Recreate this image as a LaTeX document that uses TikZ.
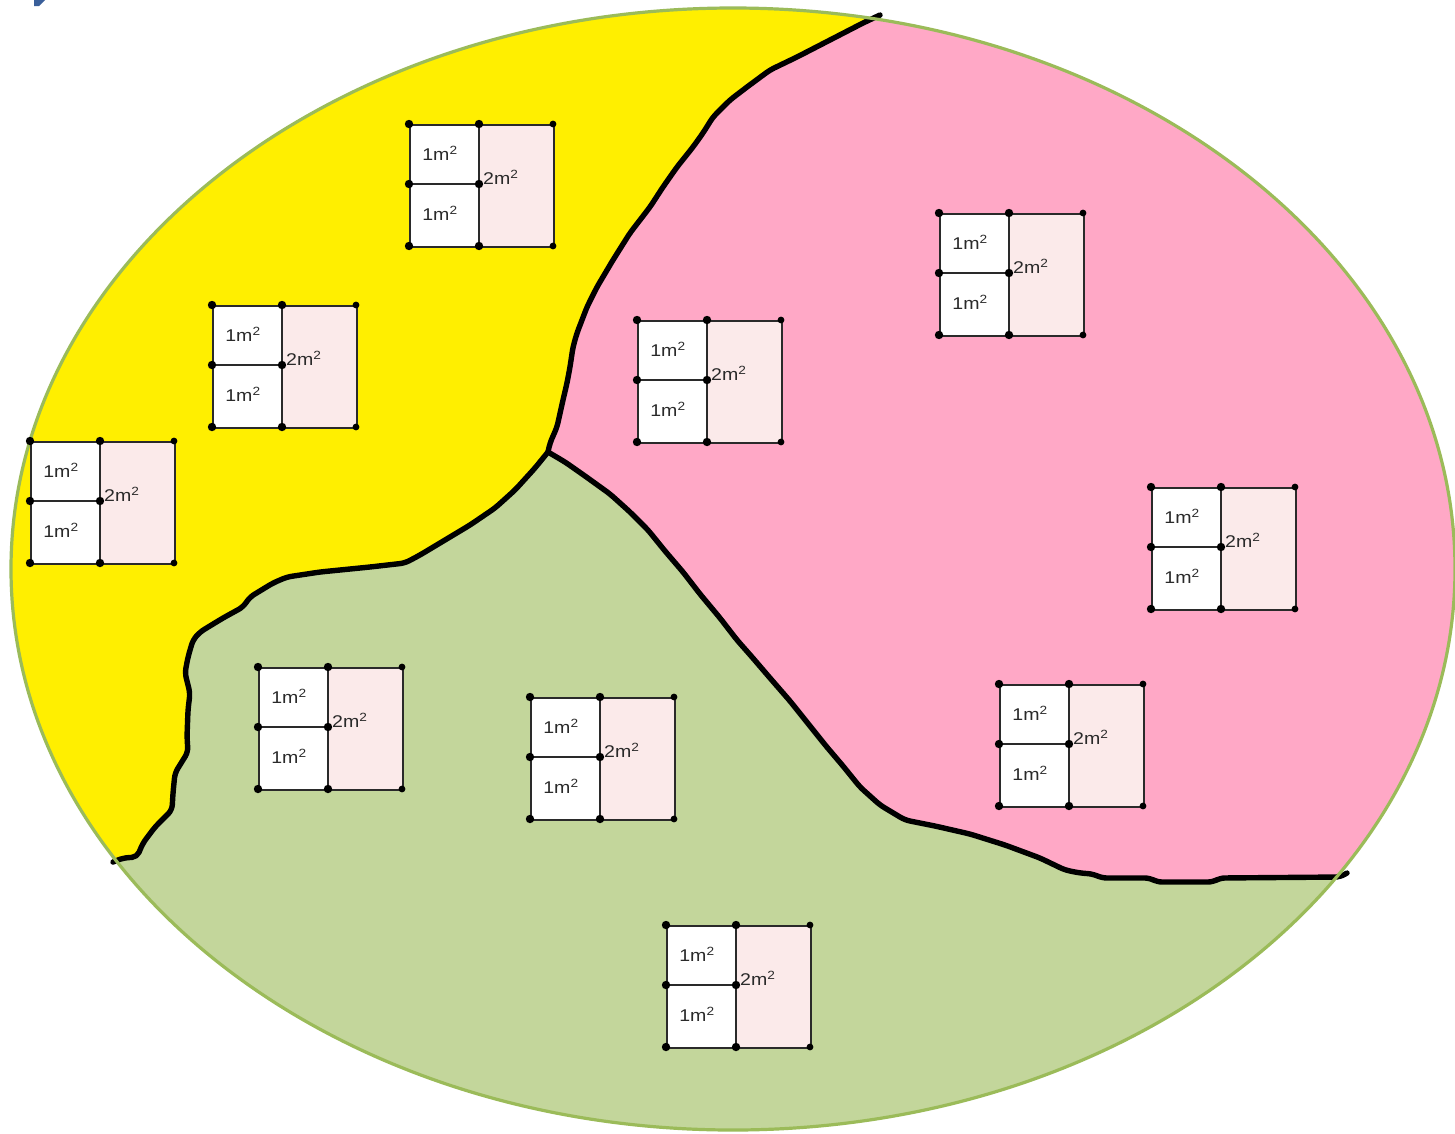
\documentclass[tikz,border=0pt]{standalone}
\usepackage{fontspec}
\newfontfamily\qfont[FakeStretch=1.15]{Liberation Sans}
\usetikzlibrary{calc}
\definecolor{yel}{HTML}{FFEF00}
\definecolor{pnk}{HTML}{FFA8C6}
\definecolor{grn}{HTML}{C3D69B}
\definecolor{rim}{HTML}{9BBB59}
\definecolor{cellpink}{HTML}{FBEAEA}
\definecolor{qgray}{HTML}{2A2A2A}
\definecolor{markblue}{HTML}{3A5F9A}
\tikzset{
  border/.style={line width=5.4pt, black, line join=round, line cap=round, rounded corners=5pt},
  rimline/.style={line width=3.2pt, rim},
  qframe/.style={draw=qgray, line width=1.8pt, minimum width=144pt, minimum height=122pt, inner sep=0pt, anchor=north west},
  qline/.style={draw=qgray, line width=1.8pt},
  qlabel/.style={font=\qfont\fontsize{17}{19}\selectfont, text=qgray, inner sep=0pt},
}
\newcommand\quadbox[3]{%
\begin{scope}[shift={(#2,#3)}]
  \fill[white] (0,0) rectangle (70,122);
  \fill[cellpink] (70,0) rectangle (144,122);
  \node[qframe] (#1) at (0,0) {};
  \draw[qline] (70,0) -- (70,122) (0,60) -- (70,60);
  \foreach \p in {(0,0),(70,0),(0,60),(70,60),(0,122),(70,122)} {\fill[black] \p circle (4.2pt);}
  \foreach \p in {(144,0),(144,122)} {\fill[black] \p circle (3.4pt);}
  \node[qlabel] (#1a) at (31,29) {1m\textsuperscript{2}};
  \node[qlabel] (#1b) at (31,89) {1m\textsuperscript{2}};
  \node[qlabel, anchor=west] (#1c) at (74,53) {2m\textsuperscript{2}};
\end{scope}}
\begin{document}
\begin{tikzpicture}[x=1pt, y=-1pt]
\useasboundingbox (0,0) rectangle (1455,1133);
\fill[white] (0,0) rectangle (1455,1133);
% blue mark
\fill[markblue] (34,0) -- (45,0) -- (39,6) -- (34,6) -- cycle;
% regions
\fill[grn] (733,569) ellipse [x radius=722pt, y radius=561pt];
\begin{scope}
  \clip (733,569) ellipse [x radius=722pt, y radius=561pt];
  \fill[yel, rounded corners=5pt] (880,15) -- (863,23) -- (830,40) -- (797,57) -- (770,70) -- (747,87) -- (730,100) -- (713,117) -- (703,133) -- (693,147) -- (677,167) -- (663,187) -- (650,207) -- (630,233) -- (613,260) -- (597,287) -- (587,307) -- (577,333) -- (573,347) -- (570,367) -- (567,383) -- (563,400) -- (557,427) -- (550,443) -- (548,452)
    -- (535,468) -- (515,490) -- (495,508) -- (470,525) -- (445,540) -- (420,555) -- (405,563) -- (370,567) -- (340,570) -- (320,572) -- (287,577) -- (273,583) -- (250,597) -- (243,607) -- (223,618) -- (200,632) -- (193,640) -- (188,657) -- (185,673) -- (190,693) -- (188,710) -- (187,737) -- (188,752) -- (183,760) -- (175,773) -- (173,793) -- (172,810) -- (155,827) -- (143,843) -- (137,857) -- (123,858) -- (113,862)
    -- (90,880) -- (0,880) -- (0,0) -- (880,0) -- cycle;
  \fill[pnk, rounded corners=5pt] (880,15) -- (863,23) -- (830,40) -- (797,57) -- (770,70) -- (747,87) -- (730,100) -- (713,117) -- (703,133) -- (693,147) -- (677,167) -- (663,187) -- (650,207) -- (630,233) -- (613,260) -- (597,287) -- (587,307) -- (577,333) -- (573,347) -- (570,367) -- (567,383) -- (563,400) -- (557,427) -- (550,443) -- (548,452)
    -- (565,462) -- (585,476) -- (610,494) -- (630,512) -- (648,530) -- (665,551) -- (683,572) -- (700,594) -- (720,618) -- (737,640) -- (752,657) -- (770,678) -- (790,701) -- (810,726) -- (826,746) -- (843,766) -- (860,787) -- (880,805) -- (905,820) -- (935,826) -- (970,834) -- (1005,845) -- (1040,858) -- (1065,870) -- (1080,873) -- (1093,874) -- (1102,878) -- (1150,878) -- (1157,882) -- (1213,882) -- (1220,878) -- (1340,877) -- (1347,873)
    -- (1455,873) -- (1455,0) -- (880,0) -- cycle;
\end{scope}
% boundaries
\coordinate (top) at (880,15);
\coordinate (junc) at (548,452);
\coordinate (leftend) at (113,862);
\coordinate (rightend) at (1347,873);
\draw[border] (top) -- (863,23) -- (830,40) -- (797,57) -- (770,70) -- (747,87) -- (730,100) -- (713,117) -- (703,133) -- (693,147) -- (677,167) -- (663,187) -- (650,207) -- (630,233) -- (613,260) -- (597,287) -- (587,307) -- (577,333) -- (573,347) -- (570,367) -- (567,383) -- (563,400) -- (557,427) -- (550,443) -- (junc);
\draw[border] (junc) -- (535,468) -- (515,490) -- (495,508) -- (470,525) -- (445,540) -- (420,555) -- (405,563) -- (370,567) -- (340,570) -- (320,572) -- (287,577) -- (273,583) -- (250,597) -- (243,607) -- (223,618) -- (200,632) -- (193,640) -- (188,657) -- (185,673) -- (190,693) -- (188,710) -- (187,737) -- (188,752) -- (183,760) -- (175,773) -- (173,793) -- (172,810) -- (155,827) -- (143,843) -- (137,857) -- (123,858) -- (leftend);
\draw[border] (junc) -- (565,462) -- (585,476) -- (610,494) -- (630,512) -- (648,530) -- (665,551) -- (683,572) -- (700,594) -- (720,618) -- (737,640) -- (752,657) -- (770,678) -- (790,701) -- (810,726) -- (826,746) -- (843,766) -- (860,787) -- (880,805) -- (905,820) -- (935,826) -- (970,834) -- (1005,845) -- (1040,858) -- (1065,870) -- (1080,873) -- (1093,874) -- (1102,878) -- (1150,878) -- (1157,882) -- (1213,882) -- (1220,878) -- (1340,877) -- (rightend);
% outline
\draw[rimline] (733,569) ellipse [x radius=722pt, y radius=561pt];
% quadrats
\quadbox{q1}{409}{124}
\quadbox{q2}{212}{305}
\quadbox{q3}{30}{441}
\quadbox{q4}{637}{320}
\quadbox{q5}{939}{213}
\quadbox{q6}{1151}{487}
\quadbox{q7}{999}{684}
\quadbox{q8}{530}{697}
\quadbox{q9}{258}{667}
\quadbox{q10}{666}{925}
\end{tikzpicture}
\end{document}
